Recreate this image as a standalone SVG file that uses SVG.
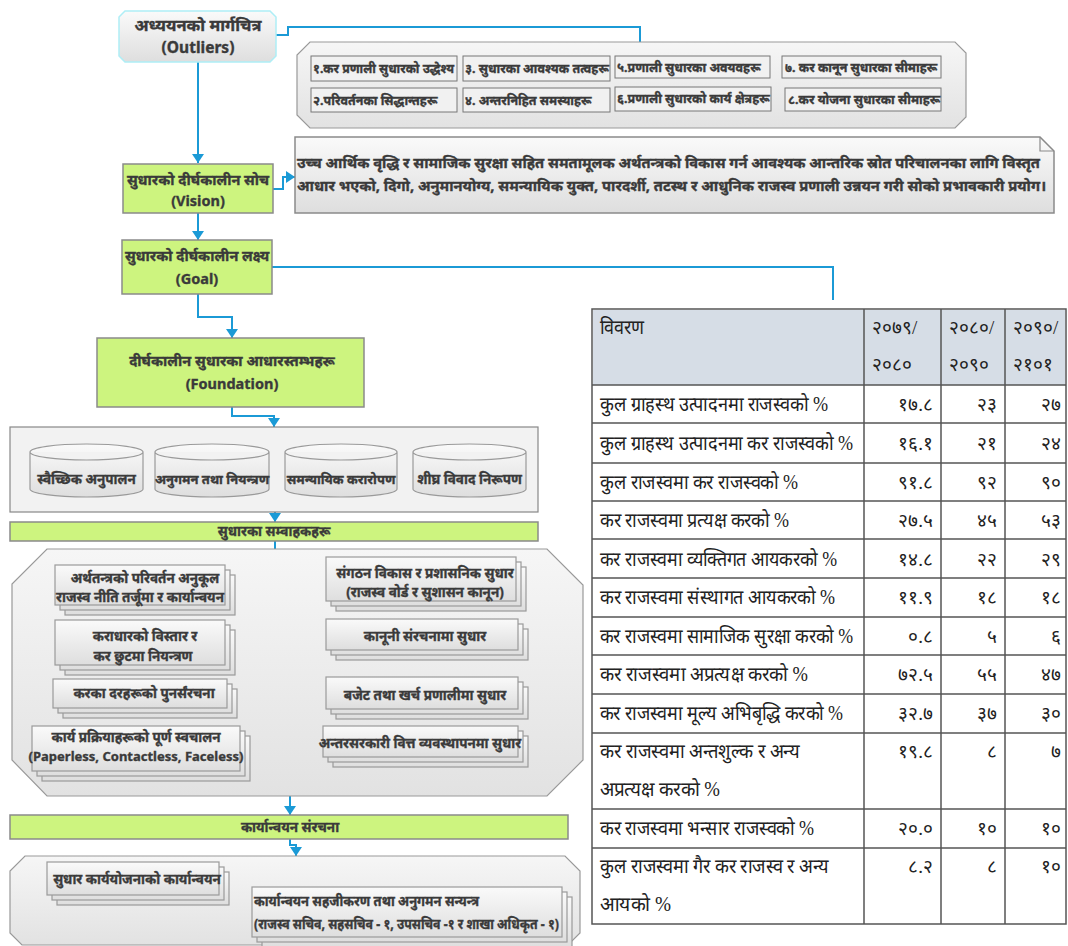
<svg xmlns="http://www.w3.org/2000/svg" width="1068" height="946" viewBox="0 0 1068 946">
<defs>
<linearGradient id="gg" x1="0" y1="0" x2="0" y2="1"><stop offset="0" stop-color="#fafafa"/><stop offset="1" stop-color="#dedede"/></linearGradient>
<linearGradient id="gc" x1="0" y1="0" x2="0" y2="1"><stop offset="0" stop-color="#f6f6f6"/><stop offset="1" stop-color="#e2e2e2"/></linearGradient>
<marker id="arr" viewBox="0 0 9 12" refX="9" refY="6" markerWidth="9" markerHeight="12" markerUnits="userSpaceOnUse" orient="auto"><path d="M0,0 L9,6 L0,12 z" fill="#1b9ad6"/></marker>
<style>
.t{font-family:'Noto Sans',sans-serif;font-weight:bold;fill:#3a3a3a;stroke:#3a3a3a;stroke-width:0.35;}
.c{text-anchor:middle;}
.g{fill:#cdf47f;stroke:#8a8a8a;stroke-width:1.5;}
.gr{fill:url(#gg);stroke:#9a9a9a;stroke-width:1.2;}
.cont{fill:url(#gc);stroke:#999;stroke-width:1.2;}
.sb{fill:#f1f1f1;stroke:#777;stroke-width:1;}
.cn{fill:none;stroke:#1b9ad6;stroke-width:2;}
.a{marker-end:url(#arr);}
.tb{font-family:'Liberation Serif',serif;fill:#222;font-size:19px;}
.tlb{font-size:20px;}
.r{text-anchor:end;}
.tl{stroke:#555;stroke-width:1.5;fill:none;}
</style>
</defs>

<g id="connectors">
<path class="cn" d="M276,35 H288 V27 H640 V42"/>
<path class="cn a" d="M198,62 V163"/>
<path class="cn a" d="M273,189 H283 V177 H295"/>
<path class="cn a" d="M198,213 V240"/>
<path class="cn" d="M272,267 H833 V300"/>
<path class="cn a" d="M198,294 V317 H232 V338"/>
<path class="cn a" d="M232,407 V416 H274 V427"/>
<path class="cn a" d="M275,512 V522"/>
<path class="cn" d="M275,541 V752"/>
<path class="cn a" d="M275,589 H237"/>
<path class="cn a" d="M275,589 h5 v-5 H326"/>
<path class="cn a" d="M275,647 H237"/>
<path class="cn a" d="M275,647 h5 v-9 H326"/>
<path class="cn a" d="M275,698 H239"/>
<path class="cn a" d="M275,697 H326"/>
<path class="cn a" d="M275,752 H252"/>
<path class="cn a" d="M275,746 H323"/>
<path class="cn a" d="M290,796 V815"/>
<path class="cn a" d="M290,839 V845 H296 V856"/>
<path class="cn a" d="M252,918 H238 V868"/>
</g>

<g id="n-outliers-root">
<path d="M125,11 H270 L276,17 V56 L270,62 H125 L119,56 V17 Z" fill="url(#gg)" stroke="#aeeef6" stroke-width="1.5"/>
<text class="t c" x="198" y="31" font-size="16.5">अध्ययनको मार्गचित्र</text>
<text class="t c" x="198" y="53" font-size="15.5">(Outliers)</text>
</g>

<g id="n-outliers">
<path class="cont" d="M310,42 H955 L966,53 V117 L955,128 H310 L297,115 V55 Z"/>
<rect class="sb" x="311" y="56" width="146" height="25"/>
<text class="t" x="313" y="73" font-size="12.5" textLength="141" lengthAdjust="spacingAndGlyphs">१.कर प्रणाली सुधारको उद्धेश्य</text>
<rect class="sb" x="463" y="56" width="147" height="25"/>
<text class="t" x="465" y="73" font-size="12.5">३. सुधारका आवश्यक तत्वहरू</text>
<rect class="sb" x="615" y="56" width="155" height="22"/>
<text class="t" x="617" y="72" font-size="12.5">५.प्रणाली सुधारका अवयवहरू</text>
<rect class="sb" x="782" y="56" width="159" height="22"/>
<text class="t" x="785" y="72" font-size="12.5">७. कर कानून सुधारका सीमाहरू</text>
<rect class="sb" x="311" y="88" width="146" height="24"/>
<text class="t" x="313" y="105" font-size="12.5">२.परिवर्तनका सिद्धान्तहरू</text>
<rect class="sb" x="463" y="88" width="147" height="24"/>
<text class="t" x="465" y="105" font-size="12.5">४. अन्तरनिहित समस्याहरू</text>
<rect class="sb" x="615" y="87" width="156" height="24"/>
<text class="t" x="617" y="103" font-size="12.5">६.प्रणाली सुधारको कार्य क्षेत्रहरू</text>
<rect class="sb" x="785" y="88" width="156" height="23"/>
<text class="t" x="788" y="104" font-size="12.5">८.कर योजना सुधारका सीमाहरू</text>
</g>

<g id="n-vision">
<rect class="g" x="123" y="164" width="150" height="49"/>
<text class="t c" x="198" y="185" font-size="14.5">सुधारको दीर्घकालीन सोच</text>
<text class="t c" x="198" y="206" font-size="14.5">(Vision)</text>
</g>

<g id="n-vision-text">
<path d="M295,137 H1040 L1054,151 V213 H295 Z" fill="url(#gg)" stroke="#8a8a8a" stroke-width="1.5"/>
<path d="M1040,137 V151 H1054" fill="none" stroke="#8a8a8a" stroke-width="1.2"/>
<text class="t" x="297" y="168" font-size="14.5" textLength="743" lengthAdjust="spacingAndGlyphs">उच्च आर्थिक वृद्धि र सामाजिक सुरक्षा सहित समतामूलक अर्थतन्त्रको विकास गर्न आवश्यक आन्तरिक स्रोत परिचालनका लागि विस्तृत</text>
<text class="t" x="297" y="191" font-size="14.5" textLength="749" lengthAdjust="spacingAndGlyphs">आधार भएको, दिगो, अनुमानयोग्य, समन्यायिक युक्त, पारदर्शी, तटस्थ र आधुनिक राजस्व प्रणाली उन्नयन गरी सोको प्रभावकारी प्रयोग।</text>
</g>

<g id="n-goal">
<rect class="g" x="122" y="240" width="150" height="54"/>
<text class="t c" x="197" y="261" font-size="14.5">सुधारको दीर्घकालीन लक्ष्य</text>
<text class="t c" x="197" y="284" font-size="14.5">(Goal)</text>
</g>

<g id="n-foundation">
<rect class="g" x="97" y="338" width="267" height="69"/>
<text class="t c" x="232" y="366" font-size="14.5">दीर्घकालीन सुधारका आधारस्तम्भहरू</text>
<text class="t c" x="232" y="389" font-size="14.5">(Foundation)</text>
</g>

<g id="n-pillars">
<rect x="10" y="427" width="528" height="85" fill="#f2f2f2" stroke="#888" stroke-width="1.2"/>
<path class="gr" d="M30,452 A56.5,8 0 0 1 143,452 V489 A56.5,8 0 0 1 30,489 Z M30,452 A56.5,8 0 0 0 143,452"/>
<text class="t c" x="86.5" y="484" font-size="13.5">स्वैच्छिक अनुपालन</text>
<path class="gr" d="M155,452 A57,8 0 0 1 269,452 V489 A57,8 0 0 1 155,489 Z M155,452 A57,8 0 0 0 269,452"/>
<text class="t c" x="212" y="484" font-size="13">अनुगमन तथा नियन्त्रण</text>
<path class="gr" d="M285,452 A56,8 0 0 1 397,452 V489 A56,8 0 0 1 285,489 Z M285,452 A56,8 0 0 0 397,452"/>
<text class="t c" x="341" y="484" font-size="13">समन्यायिक करारोपण</text>
<path class="gr" d="M413,452 A56.5,8 0 0 1 526,452 V489 A56.5,8 0 0 1 413,489 Z M413,452 A56.5,8 0 0 0 526,452"/>
<text class="t c" x="469.5" y="484" font-size="13.5">शीघ्र विवाद निरूपण</text>
</g>

<g id="n-drivers-title">
<rect class="g" x="10" y="522" width="528" height="19"/>
<text class="t c" x="274" y="536" font-size="13.5">सुधारका सम्वाहकहरू</text>
</g>

<g id="n-drivers">
<path class="cont" d="M47,549 H547 L583,585 V760 L547,796 H47 L12,760 V584 Z"/>
</g>

<g id="n-d1">
<rect class="gr" x="65" y="575" width="170" height="40"/><rect class="gr" x="60" y="570" width="170" height="40"/><rect class="gr" x="55" y="565" width="170" height="40"/>
<text class="t c" x="145" y="583" font-size="13.5">अर्थतन्त्रको परिवर्तन अनुकूल</text>
<text class="t c" x="140" y="602" font-size="13.5">राजस्व नीति तर्जूमा र कार्यान्वयन</text>
</g>
<g id="n-d2">
<rect class="gr" x="65" y="630" width="170" height="45"/><rect class="gr" x="60" y="625" width="170" height="45"/><rect class="gr" x="55" y="620" width="170" height="45"/>
<text class="t c" x="145" y="641" font-size="13.5">कराधारको विस्तार र</text>
<text class="t c" x="143" y="661" font-size="13.5">कर छुटमा नियन्त्रण</text>
</g>
<g id="n-d3">
<rect class="gr" x="63" y="689" width="174" height="29"/><rect class="gr" x="58" y="684" width="174" height="29"/><rect class="gr" x="53" y="679" width="174" height="29"/>
<text class="t c" x="144" y="698" font-size="13.5">करका दरहरूको पुनर्संरचना</text>
</g>
<g id="n-d4">
<rect class="gr" x="42" y="736" width="208" height="45"/><rect class="gr" x="37" y="731" width="208" height="45"/><rect class="gr" x="32" y="726" width="208" height="45"/>
<text class="t c" x="136" y="742" font-size="13.5">कार्य प्रक्रियाहरूको पूर्ण स्वचालन</text>
<text class="t c" x="136" y="761" font-size="13">(Paperless, Contactless, Faceless)</text>
</g>
<g id="n-d5">
<rect class="gr" x="336" y="567" width="190" height="44"/><rect class="gr" x="331" y="562" width="190" height="44"/><rect class="gr" x="326" y="557" width="190" height="44"/>
<text class="t c" x="425" y="578" font-size="13.5">संगठन विकास र प्रशासनिक सुधार</text>
<text class="t c" x="425" y="597" font-size="13.5">(राजस्व वोर्ड र सुशासन कानून)</text>
</g>
<g id="n-d6">
<rect class="gr" x="336" y="629" width="192" height="31"/><rect class="gr" x="331" y="624" width="192" height="31"/><rect class="gr" x="326" y="619" width="192" height="31"/>
<text class="t c" x="425" y="641" font-size="13.5">कानूनी संरचनामा सुधार</text>
</g>
<g id="n-d7">
<rect class="gr" x="336" y="687" width="192" height="32"/><rect class="gr" x="331" y="682" width="192" height="32"/><rect class="gr" x="326" y="677" width="192" height="32"/>
<text class="t c" x="425" y="700" font-size="13.5">बजेट तथा खर्च प्रणालीमा सुधार</text>
</g>
<g id="n-d8">
<rect class="gr" x="333" y="736" width="195" height="31"/><rect class="gr" x="328" y="731" width="195" height="31"/><rect class="gr" x="323" y="726" width="195" height="31"/>
<text class="t c" x="420" y="748" font-size="13.5">अन्तरसरकारी वित्त व्यवस्थापनमा सुधार</text>
</g>

<g id="n-impl-title">
<rect class="g" x="10" y="815" width="558" height="24"/>
<text class="t c" x="290" y="832" font-size="13.5">कार्यान्वयन संरचना</text>
</g>

<g id="n-impl">
<path class="cont" d="M25,856 H565 L580,871 V933 L568,945 H22 L10,933 V871 Z"/>
</g>
<g id="n-i1">
<rect class="gr" x="57" y="872" width="172" height="33"/><rect class="gr" x="52" y="867" width="172" height="33"/><rect class="gr" x="47" y="862" width="172" height="33"/>
<text class="t c" x="137" y="884" font-size="13.5">सुधार कार्ययोजनाको कार्यान्वयन</text>
</g>
<g id="n-i2">
<rect class="gr" x="262" y="897" width="310" height="50"/><rect class="gr" x="257" y="892" width="310" height="50"/><rect class="gr" x="252" y="887" width="310" height="50"/>
<text class="t" x="254" y="906" font-size="13.5" textLength="225" lengthAdjust="spacingAndGlyphs">कार्यान्वयन सहजीकरण तथा अनुगमन  सन्यन्त्र</text>
<text class="t" x="254" y="929" font-size="13.5" textLength="305" lengthAdjust="spacingAndGlyphs">(राजस्व सचिव, सहसचिव - १, उपसचिव -१ र शाखा अधिकृत - १)</text>
</g>

<g id="n-table">
<rect class="tl" x="592" y="309" width="474" height="615" fill="#fff"/>
<rect x="593" y="310" width="472" height="75" fill="#d6dde6"/>
<path class="tl" d="M864,309 V924 M941,309 V924 M1005,309 V924 M592,385 H1066 M592,423 H1066 M592,463 H1066 M592,501 H1066 M592,539 H1066 M592,578 H1066 M592,617 H1066 M592,655 H1066 M592,694 H1066 M592,733 H1066 M592,809 H1066 M592,848 H1066"/>
<text class="tb tlb" x="600" y="334" textLength="44" lengthAdjust="spacingAndGlyphs">विवरण</text>
<text class="tb" x="872" y="334">२०७९/</text><text class="tb" x="872" y="371">२०८०</text>
<text class="tb" x="949" y="334">२०८०/</text><text class="tb" x="949" y="371">२०९०</text>
<text class="tb" x="1013" y="334">२०९०/</text><text class="tb" x="1013" y="371">२१०१</text>

<text class="tb tlb" x="600" y="411" textLength="228" lengthAdjust="spacingAndGlyphs">कुल ग्राहस्थ उत्पादनमा राजस्वको %</text>
<text class="tb r" x="933" y="411">१७.८</text><text class="tb r" x="997" y="411">२३</text><text class="tb r" x="1061" y="411">२७</text>
<text class="tb tlb" x="600" y="450" textLength="253" lengthAdjust="spacingAndGlyphs">कुल ग्राहस्थ उत्पादनमा कर राजस्वको %</text>
<text class="tb r" x="933" y="450">१६.१</text><text class="tb r" x="997" y="450">२१</text><text class="tb r" x="1061" y="450">२४</text>
<text class="tb tlb" x="600" y="489" textLength="198" lengthAdjust="spacingAndGlyphs">कुल राजस्वमा कर राजस्वको %</text>
<text class="tb r" x="933" y="489">९१.८</text><text class="tb r" x="997" y="489">९२</text><text class="tb r" x="1061" y="489">९०</text>
<text class="tb tlb" x="600" y="527" textLength="189" lengthAdjust="spacingAndGlyphs">कर राजस्वमा प्रत्यक्ष करको %</text>
<text class="tb r" x="933" y="527">२७.५</text><text class="tb r" x="997" y="527">४५</text><text class="tb r" x="1061" y="527">५३</text>
<text class="tb tlb" x="600" y="566" textLength="237" lengthAdjust="spacingAndGlyphs">कर राजस्वमा व्यक्तिगत आयकरको %</text>
<text class="tb r" x="933" y="566">१४.८</text><text class="tb r" x="997" y="566">२२</text><text class="tb r" x="1061" y="566">२९</text>
<text class="tb tlb" x="600" y="604" textLength="235" lengthAdjust="spacingAndGlyphs">कर राजस्वमा संस्थागत आयकरको %</text>
<text class="tb r" x="933" y="604">११.९</text><text class="tb r" x="997" y="604">१८</text><text class="tb r" x="1061" y="604">१८</text>
<text class="tb tlb" x="600" y="643" textLength="253" lengthAdjust="spacingAndGlyphs">कर राजस्वमा सामाजिक सुरक्षा करको %</text>
<text class="tb r" x="933" y="643">०.८</text><text class="tb r" x="997" y="643">५</text><text class="tb r" x="1061" y="643">६</text>
<text class="tb tlb" x="600" y="681" textLength="208" lengthAdjust="spacingAndGlyphs">कर राजस्वमा अप्रत्यक्ष करको  %</text>
<text class="tb r" x="933" y="681">७२.५</text><text class="tb r" x="997" y="681">५५</text><text class="tb r" x="1061" y="681">४७</text>
<text class="tb tlb" x="600" y="720" textLength="243" lengthAdjust="spacingAndGlyphs">कर राजस्वमा मूल्य अभिबृद्धि करको %</text>
<text class="tb r" x="933" y="720">३२.७</text><text class="tb r" x="997" y="720">३७</text><text class="tb r" x="1061" y="720">३०</text>
<text class="tb tlb" x="600" y="758" textLength="200" lengthAdjust="spacingAndGlyphs">कर राजस्वमा अन्तशुल्क र अन्य</text>
<text class="tb tlb" x="600" y="796" textLength="120" lengthAdjust="spacingAndGlyphs">अप्रत्यक्ष करको %</text>
<text class="tb r" x="933" y="758">१९.८</text><text class="tb r" x="997" y="758">८</text><text class="tb r" x="1061" y="758">७</text>
<text class="tb tlb" x="600" y="835" textLength="214" lengthAdjust="spacingAndGlyphs">कर राजस्वमा भन्सार राजस्वको %</text>
<text class="tb r" x="933" y="835">२०.०</text><text class="tb r" x="997" y="835">१०</text><text class="tb r" x="1061" y="835">१०</text>
<text class="tb tlb" x="600" y="873" textLength="229" lengthAdjust="spacingAndGlyphs">कुल राजस्वमा गैर कर राजस्व र अन्य</text>
<text class="tb tlb" x="600" y="911" textLength="71" lengthAdjust="spacingAndGlyphs">आयको %</text>
<text class="tb r" x="933" y="873">८.२</text><text class="tb r" x="997" y="873">८</text><text class="tb r" x="1061" y="873">१०</text>
</g>
</svg>
